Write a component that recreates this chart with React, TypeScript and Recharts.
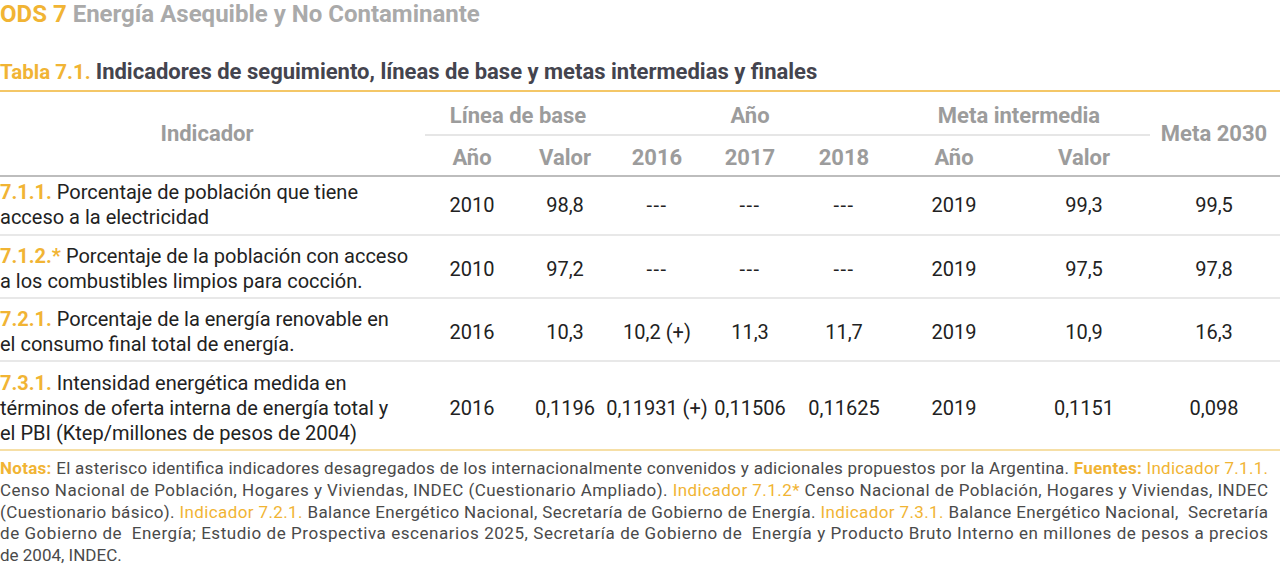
import React from 'react';
import { ScatterChart, Scatter, XAxis, YAxis, ReferenceLine } from 'recharts';

const GOLD = '#f1b434';
const DARK = '#222222';
const HEAD = '#9c9c9c';
const NOTE = '#4a4a4a';
const FONT = 'Roboto, "Noto Sans", sans-serif';

// table content
const codes = ['7.1.1.', '7.1.2.*', '7.2.1.', '7.3.1.'];
const descriptions = [
  ['Porcentaje de población que tiene', 'acceso a la electricidad'],
  ['Porcentaje de la población con acceso', 'a los combustibles limpios para cocción.'],
  ['Porcentaje de la energía renovable en', 'el consumo final total de energía.'],
  ['Intensidad energética medida en', 'términos de oferta interna de energía total y', 'el PBI (Ktep/millones de pesos de 2004)'],
];
const baseYear = ['2010', '2010', '2016', '2016'];
const baseValue = ['98,8', '97,2', '10,3', '0,1196'];
const value2016 = ['---', '---', '10,2 (+)', '0,11931 (+)'];
const value2017 = ['---', '---', '11,3', '0,11506'];
const value2018 = ['---', '---', '11,7', '0,11625'];
const metaYear = ['2019', '2019', '2019', '2019'];
const metaValue = ['99,3', '97,5', '10,9', '0,1151'];
const meta2030 = ['99,5', '97,8', '16,3', '0,098'];

const groupHeaders = ['Línea de base', 'Año', 'Meta intermedia'];
const subHeaders = ['Año', 'Valor', '2016', '2017', '2018', 'Año', 'Valor'];

type Part = { t: string; c: string; b?: boolean; s?: number };

const notesLines: Part[][] = [
  [
    { t: 'Notas:', c: GOLD, b: true },
    { t: ' El asterisco identifica indicadores desagregados de los internacionalmente convenidos y adicionales propuestos por la Argentina. ', c: NOTE },
    { t: 'Fuentes:', c: GOLD, b: true },
    { t: ' ', c: NOTE },
    { t: 'Indicador 7.1.1.', c: GOLD },
  ],
  [
    { t: 'Censo Nacional de Población, Hogares y Viviendas, INDEC (Cuestionario Ampliado). ', c: NOTE },
    { t: 'Indicador 7.1.2*', c: GOLD },
    { t: ' Censo Nacional de Población, Hogares y Viviendas, INDEC', c: NOTE },
  ],
  [
    { t: '(Cuestionario básico). ', c: NOTE },
    { t: 'Indicador 7.2.1.', c: GOLD },
    { t: ' Balance Energético Nacional, Secretaría de Gobierno de Energía. ', c: NOTE },
    { t: 'Indicador 7.3.1.', c: GOLD },
    { t: ' Balance Energético Nacional,  Secretaría', c: NOTE },
  ],
  [
    { t: 'de Gobierno de  Energía; Estudio de Prospectiva escenarios 2025, Secretaría de Gobierno de  Energía y Producto Bruto Interno en millones de pesos a precios', c: NOTE },
  ],
  [{ t: 'de 2004, INDEC.', c: NOTE }],
];

// layout
const W = 1280;
const H = 566;
const colX = [472, 565, 657, 750, 844, 954, 1084, 1214];
const groupX = [518, 750, 1019];
const rowBaselines = [[199, 224], [263, 288], [326, 351], [390, 415, 440]];
const rowLines = [235, 298, 361];

type Cell = {
  x: number;
  y: number;
  parts: Part[];
  anchor: 'start' | 'middle' | 'end';
  size: number;
  len?: number;
  spacing?: number;
};

const cells: Cell[] = [];

cells.push({
  x: 0, y: 22, anchor: 'start', size: 24,
  parts: [{ t: 'ODS 7 ', c: GOLD, b: true }, { t: 'Energía Asequible y No Contaminante', c: '#aaaaaa', b: true }],
});
cells.push({
  x: 0, y: 79, anchor: 'start', size: 22,
  parts: [{ t: 'Tabla 7.1. ', c: GOLD, b: true, s: 20.5 }, { t: 'Indicadores de seguimiento, líneas de base y metas intermedias y finales', c: '#44444e', b: true }],
});

cells.push({ x: 207, y: 141, anchor: 'middle', size: 22, parts: [{ t: 'Indicador', c: HEAD, b: true }] });
cells.push({ x: 1214, y: 141, anchor: 'middle', size: 22, parts: [{ t: 'Meta 2030', c: HEAD, b: true }] });
groupHeaders.forEach((g, i) =>
  cells.push({ x: groupX[i], y: 123, anchor: 'middle', size: 22, parts: [{ t: g, c: HEAD, b: true }] })
);
subHeaders.forEach((s, i) =>
  cells.push({ x: colX[i], y: 165, anchor: 'middle', size: 22, parts: [{ t: s, c: HEAD, b: true }] })
);

const columns = [baseYear, baseValue, value2016, value2017, value2018, metaYear, metaValue, meta2030];

codes.forEach((code, r) => {
  const lines = descriptions[r];
  const bl = rowBaselines[r];
  lines.forEach((line, j) => {
    const parts: Part[] = j === 0 ? [{ t: code + ' ', c: GOLD, b: true }, { t: line, c: DARK }] : [{ t: line, c: DARK }];
    cells.push({ x: 0, y: bl[j], anchor: 'start', size: 20, parts });
  });
  const mid = Math.round((bl[0] + bl[bl.length - 1]) / 2);
  columns.forEach((col, c) => {
    const v = col[r];
    cells.push({
      x: colX[c], y: mid, anchor: 'middle', size: 20,
      parts: [{ t: v, c: DARK }],
      spacing: v === '---' ? 1.5 : undefined,
    });
  });
});

notesLines.forEach((parts, i) => {
  cells.push({
    x: 0,
    y: 474 + i * 21.75,
    anchor: 'start',
    size: 17,
    parts,
    len: i < notesLines.length - 1 ? 1268 : undefined,
  });
});

const CellText = (props: any) => {
  const { cx, cy, payload } = props;
  const p: Cell = payload;
  return (
    <text
      x={cx}
      y={cy}
      textAnchor={p.anchor}
      fontSize={p.size}
      fontFamily={FONT}
      textLength={p.len}
      lengthAdjust={p.len ? 'spacing' : undefined}
      letterSpacing={p.spacing}
      style={{ whiteSpace: 'pre' }}
    >
      {p.parts.map((part, k) => (
        <tspan key={k} fill={part.c} fontWeight={part.b ? 700 : 400} fontSize={part.s}>
          {part.t}
        </tspan>
      ))}
    </text>
  );
};

export default function App() {
  return (
    <div style={{ position: 'absolute', left: 0, top: 0, width: W, height: H, background: '#fff' }}>
      <ScatterChart width={W} height={H} margin={{ top: 0, right: 0, bottom: 0, left: 0 }}>
        <XAxis type="number" dataKey="x" domain={[0, W]} allowDataOverflow hide />
        <YAxis type="number" dataKey="y" domain={[0, H]} allowDataOverflow reversed hide />
        <ReferenceLine y={91} stroke={GOLD} strokeWidth={1.5} />
        <ReferenceLine
          segment={[{ x: 425, y: 135 }, { x: 1150, y: 135 }]}
          stroke="#e6e6e6"
          strokeWidth={2}
        />
        <ReferenceLine y={176} stroke="#bdbdbd" strokeWidth={2} />
        {rowLines.map((y) => (
          <ReferenceLine key={y} y={y} stroke="#e8e8e8" strokeWidth={2} />
        ))}
        <ReferenceLine y={450} stroke="#f6dfa6" strokeWidth={2} />
        <Scatter data={cells} shape={<CellText />} isAnimationActive={false} />
      </ScatterChart>
    </div>
  );
}
